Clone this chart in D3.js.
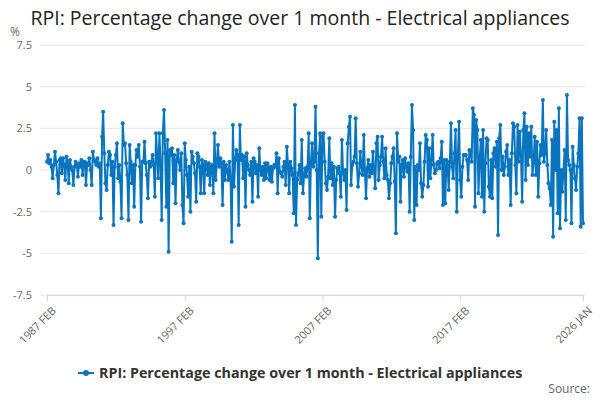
<!DOCTYPE html>
<html>
<head>
<meta charset="utf-8">
<script src="https://cdn.jsdelivr.net/npm/d3@7"></script>
<style>
  body { margin: 0; background: #fff; }
  #chart { width: 600px; height: 400px; }
  text { font-family: "Open Sans", "DejaVu Sans", sans-serif; }
</style>
</head>
<body>
<div id="chart"></div>
<script>
const kWidth = 600;
const kHeight = 400;

const chartTitle = "RPI: Percentage change over 1 month - Electrical appliances";
const seriesName = "RPI: Percentage change over 1 month - Electrical appliances";
const unitLabel = "%";
const sourceLabel = "Source:";

const firstMonth = "1987 FEB";
const lastMonth = "2026 JAN";
const xTickLabels = ["1987 FEB", "1997 FEB", "2007 FEB", "2017 FEB", "2026 JAN"];
const yTicks = [-7.5, -5, -2.5, 0, 2.5, 5, 7.5];

// monthly values, one row per year running FEB..JAN
const values = [
  0.5, 0.9, 0.4, 0.6, 0.2, -0.5, 0.3, 1.1, 0.5, -0.3, -1.4, 0.6,
  0.7, -0.2, 0.7, 0.3, -0.6, 0.8, 0.4, -0.8, 0.6, 0.2, 0.0, -0.9,
  0.2, 0.5, 0.3, -0.4, 0.4, 0.2, 0.6, -0.3, 0.5, 0.5, -0.9, 0.4,
  0.3, 0.7, 0.0, -0.9, 1.1, 0.6, 0.5, 0.3, 0.7, 0.2, 0.4, -2.9,
  2.0, 3.5, 1.0, -0.8, -1.2, 0.3, 1.1, 0.9, -0.3, 0.5, -3.3, 0.2,
  0.9, 1.6, -0.5, 0.3, -0.7, -2.9, 2.8, 1.5, 1.6, 0.4, -0.3, -3.0,
  1.5, 0.5, -0.8, 0.3, -2.2, 0.3, 1.2, 0.8, 1.5, 0.2, -3.1, 0.5,
  0.5, 1.7, 0.4, -0.3, -1.7, 0.5, 0.2, 0.5, 0.9, 0.3, -1.6, 2.2,
  0.8, -0.5, 2.2, 0.4, -3.0, 2.2, 3.6, 1.0, -2.2, 1.8, -4.9, 1.2,
  0.9, 1.3, -0.8, 0.9, -2.0, 0.6, 1.2, 0.5, 0.0, 1.0, -2.1, -3.2,
  1.6, 0.6, -0.3, -1.6, 0.2, -2.5, 1.1, 0.8, 0.4, -0.2, -1.9, 1.0,
  0.8, 0.2, -1.4, 0.6, 0.3, -1.4, 0.5, 0.3, -0.3, 0.4, -0.9, 0.2,
  0.3, -1.4, 2.2, -0.6, 0.4, 1.5, 0.2, 0.7, 0.4, -2.1, 0.5, -0.6,
  0.3, 0.0, -0.6, 0.5, -0.6, -4.3, 2.7, -1.0, 0.6, 1.2, 0.9, -3.3,
  2.7, 0.6, 0.9, -0.5, 0.8, -2.2, 1.0, 0.3, 0.0, -0.3, 0.5, -1.9,
  0.7, 0.5, -0.2, 0.3, -1.6, 1.3, 0.0, -0.3, 0.2, -0.6, 0.4, -0.5,
  0.4, 0.1, -0.6, 0.2, -0.7, 0.1, 0.3, 0.2, 1.0, -1.4, 0.7, -0.1,
  -0.2, -0.4, 0.2, 0.5, -0.9, 1.4, 0.3, -1.4, 0.5, 0.1, -0.3, -2.6,
  3.9, -3.3, -0.6, -0.2, 0.3, -0.8, 1.8, -1.4, -0.3, 0.1, -0.4, 0.2,
  2.2, -2.9, 0.4, 1.6, 0.2, 0.5, 3.8, 0.0, -5.3, 1.0, 2.2, -2.8,
  2.0, 2.2, 0.5, -0.8, -1.2, -0.4, 1.9, -0.5, 0.4, -0.9, 0.2, -2.8,
  -0.6, 0.1, 0.2, -0.2, -1.6, 1.8, -0.2, -0.6, 0.0, -2.4, 1.6, 2.6,
  3.2, -0.9, 0.3, 0.5, 0.8, 3.1, 0.4, -1.0, -0.2, 1.1, 0.2, -0.3,
  2.1, 0.0, -1.7, 0.1, 0.6, -0.4, 0.3, -0.2, 1.1, 0.0, -1.1, 1.6,
  2.0, -0.6, 0.3, 0.8, 2.0, 0.5, -0.5, 1.3, -0.3, -0.6, -1.7, -0.8,
  0.4, 0.8, 1.3, -0.7, -3.8, 2.2, 0.5, 0.8, -1.9, 0.3, 0.6, -0.4,
  0.7, 0.2, -0.1, 0.4, -2.5, 0.8, 3.9, 2.4, -3.0, 0.2, -2.1, 0.3,
  0.0, 1.6, -0.8, -1.6, -0.9, 0.5, 2.1, 1.8, -1.0, 1.3, -0.5, 0.6,
  2.1, 0.3, -0.2, 0.0, 0.4, 0.5, 0.1, 0.7, 1.7, -2.1, 0.6, -2.0,
  0.6, 0.3, -1.2, 0.5, 2.8, 0.2, -0.5, 1.0, 2.4, -2.5, 0.9, 2.9,
  -0.6, -1.6, 0.2, 0.9, 0.9, 0.9, 0.6, -0.6, 1.2, 1.1, 0.5, 3.7,
  3.3, -2.2, 3.0, 2.4, -1.4, 0.6, 1.8, -1.6, 2.4, -2.5, 0.4, 1.9,
  1.8, -1.0, -1.6, 0.6, -1.7, 1.0, 1.3, 0.2, 1.7, -3.9, 1.9, 2.7,
  0.0, 0.8, -0.3, 0.2, 1.1, 1.5, -0.3, 0.6, -2.1, 1.0, 2.8, 2.6,
  0.3, -1.4, 2.7, 0.5, 2.3, 0.9, -1.9, 2.4, 3.4, -0.6, 2.6, 0.3,
  2.2, 0.8, 2.6, -0.3, 0.5, 2.0, -0.3, 1.7, -1.6, 0.4, 1.5, 0.9,
  4.2, 0.5, 1.0, 2.4, 0.3, -0.8, -1.1, -2.1, 1.8, -4.0, 2.9, 0.0,
  2.4, -2.6, 3.7, -3.5, 0.0, -1.3, 0.0, 1.2, -3.0, 4.5, 0.6, 0.3,
  0.0, -3.2, 1.4, 0.3, -0.5, -1.2, 0.2, 1.0, 3.1, -3.4, 3.1, -3.2
];

const kLeft = 47;
const kRight = 583;
const kTop = 45;
const kBottom = 295;
const kBlue = "#0a75bf";

const parseMonth = d3.timeParse("%Y %b");
const start = parseMonth(firstMonth);
const dates = values.map((v, i) => d3.timeMonth.offset(start, i));

const svg = d3.select("#chart")
  .append("svg")
  .attr("width", kWidth)
  .attr("height", kHeight);

const xScale = d3.scaleTime()
  .domain([start, parseMonth(lastMonth)])
  .range([kLeft, kRight]);

const yScale = d3.scaleLinear()
  .domain([-7.5, 7.5])
  .range([kBottom, kTop]);

// gridlines
svg.append("g")
  .selectAll("line")
  .data(yTicks)
  .enter()
  .append("line")
  .attr("x1", 40)
  .attr("x2", kRight + 2)
  .attr("y1", d => yScale(d))
  .attr("y2", d => yScale(d))
  .attr("stroke", "#e6e6e6")
  .attr("stroke-width", 1);

const yAxis = d3.axisLeft(yScale)
  .tickValues(yTicks)
  .tickSize(0)
  .tickPadding(8)
  .tickFormat(d => String(d));

svg.append("g")
  .attr("transform", `translate(40, 0)`)
  .call(yAxis)
  .call(g => g.select(".domain").remove())
  .selectAll("text")
  .attr("fill", "#666")
  .style("font-size", "11px");

const xAxis = d3.axisBottom(xScale)
  .tickValues(xTickLabels.map(parseMonth))
  .tickSize(6)
  .tickFormat(d => d3.timeFormat("%Y %b")(d).toUpperCase());

const xg = svg.append("g")
  .attr("transform", `translate(0, ${kBottom})`)
  .call(xAxis);
xg.select(".domain").attr("stroke", "#ccd6eb");
xg.selectAll(".tick line").attr("stroke", "#ccd6eb");
xg.selectAll("text")
  .attr("fill", "#666")
  .style("font-size", "11px")
  .attr("text-anchor", "end")
  .attr("dx", "0")
  .attr("dy", "0")
  .attr("transform", "translate(3, 10) rotate(-45)");

// series
const line = d3.line()
  .x((d, i) => xScale(dates[i]))
  .y(d => yScale(d));

svg.append("path")
  .datum(values)
  .attr("fill", "none")
  .attr("stroke", kBlue)
  .attr("stroke-width", 2)
  .attr("stroke-linejoin", "round")
  .attr("d", line);

svg.append("g")
  .selectAll("circle")
  .data(values)
  .enter()
  .append("circle")
  .attr("cx", (d, i) => xScale(dates[i]))
  .attr("cy", d => yScale(d))
  .attr("r", 2)
  .attr("fill", kBlue);

// title and labels
svg.append("text")
  .attr("x", kWidth / 2)
  .attr("y", 25)
  .attr("text-anchor", "middle")
  .attr("fill", "#222")
  .style("font-size", "19.5px")
  .text(chartTitle);

svg.append("text")
  .attr("x", 10)
  .attr("y", 36)
  .attr("fill", "#666")
  .style("font-size", "12px")
  .text(unitLabel);

// legend
const legend = svg.append("g")
  .attr("transform", "translate(78, 373)");
legend.append("line")
  .attr("x1", 0)
  .attr("x2", 16)
  .attr("y1", 0)
  .attr("y2", 0)
  .attr("stroke", kBlue)
  .attr("stroke-width", 2);
legend.append("circle")
  .attr("cx", 8)
  .attr("cy", 0)
  .attr("r", 3)
  .attr("fill", kBlue);
legend.append("text")
  .attr("x", 21)
  .attr("y", 5)
  .attr("fill", "#333")
  .style("font-size", "14.3px")
  .style("font-weight", "bold")
  .text(seriesName);

svg.append("text")
  .attr("x", 590)
  .attr("y", 393)
  .attr("text-anchor", "end")
  .attr("fill", "#666")
  .style("font-size", "12px")
  .text(sourceLabel);
</script>
</body>
</html>
